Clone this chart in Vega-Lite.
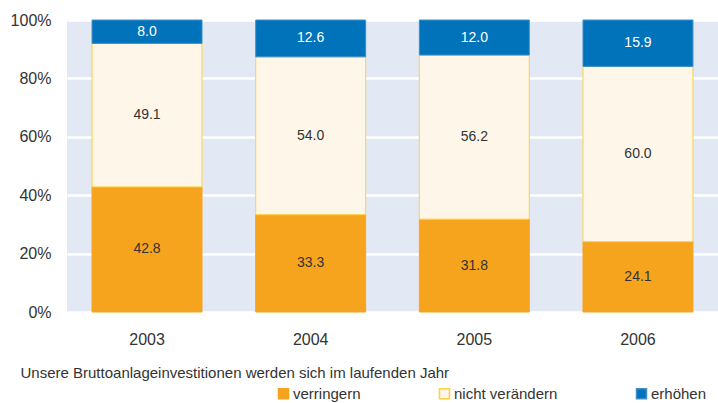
{
  "$schema": "https://vega.github.io/schema/vega-lite/v6.json",
  "width": 651,
  "height": 292,
  "autosize": "none",
  "padding": {"left": 67, "top": 20, "right": 0, "bottom": 91},
  "data": {
    "values": [
      {"Jahr": "2003", "Kategorie": "verringern", "Wert": 42.8},
      {"Jahr": "2003", "Kategorie": "nicht verändern", "Wert": 49.1},
      {"Jahr": "2003", "Kategorie": "erhöhen", "Wert": 8.0},
      {"Jahr": "2004", "Kategorie": "verringern", "Wert": 33.3},
      {"Jahr": "2004", "Kategorie": "nicht verändern", "Wert": 54.0},
      {"Jahr": "2004", "Kategorie": "erhöhen", "Wert": 12.6},
      {"Jahr": "2005", "Kategorie": "verringern", "Wert": 31.8},
      {"Jahr": "2005", "Kategorie": "nicht verändern", "Wert": 56.2},
      {"Jahr": "2005", "Kategorie": "erhöhen", "Wert": 12.0},
      {"Jahr": "2006", "Kategorie": "verringern", "Wert": 24.1},
      {"Jahr": "2006", "Kategorie": "nicht verändern", "Wert": 60.0},
      {"Jahr": "2006", "Kategorie": "erhöhen", "Wert": 15.9}
    ]
  },
  "encoding": {
    "x": {
      "field": "Jahr",
      "type": "ordinal",
      "scale": {"paddingInner": 0.328, "paddingOuter": 0.153},
      "axis": {
        "labelAngle": 0,
        "labelFontSize": 16,
        "labelBaseline": "middle",
        "labelPadding": 27,
        "ticks": false,
        "domain": false,
        "grid": false,
        "title": "Unsere Bruttoanlageinvestitionen werden sich im laufenden Jahr",
        "titleFontSize": 15,
        "titleFontWeight": "normal",
        "titleAnchor": "start",
        "titleAlign": "left",
        "titleBaseline": "middle",
        "titleX": -47,
        "titleY": 60
      }
    }
  },
  "layer": [
    {
      "mark": {"type": "bar", "strokeWidth": 1},
      "encoding": {
        "y": {
          "field": "Wert",
          "type": "quantitative",
          "stack": "normalize",
          "scale": {"domain": [0, 1]},
          "axis": {
            "values": [0, 0.2, 0.4, 0.6, 0.8, 1],
            "format": ".0%",
            "labelFontSize": 16,
            "labelPadding": 16,
            "ticks": false,
            "domain": false,
            "grid": true,
            "gridColor": "#ffffff",
            "gridWidth": 2.5,
            "title": null
          }
        },
        "color": {
          "field": "Kategorie",
          "type": "nominal",
          "sort": ["verringern", "nicht verändern", "erhöhen"],
          "scale": {
            "domain": ["verringern", "nicht verändern", "erhöhen"],
            "range": ["#F6A41E", "#FEF6E9", "#0073BB"]
          },
          "legend": {
            "title": null,
            "orient": "none",
            "direction": "horizontal",
            "columns": 3,
            "legendX": 209,
            "legendY": 366,
            "symbolType": "square",
            "symbolSize": 100,
            "symbolStrokeWidth": 1.5,
            "labelFontSize": 15,
            "labelOffset": 2,
            "labelLimit": 300,
            "columnPadding": 75
          }
        },
        "stroke": {
          "field": "Kategorie",
          "type": "nominal",
          "sort": ["verringern", "nicht verändern", "erhöhen"],
          "scale": {
            "domain": ["verringern", "nicht verändern", "erhöhen"],
            "range": ["#F6A41E", "#FFD042", "#3F8FC8"]
          }
        }
      }
    },
    {
      "mark": {"type": "text", "fontSize": 14},
      "encoding": {
        "y": {
          "field": "Wert",
          "type": "quantitative",
          "stack": "normalize",
          "bandPosition": 0.5
        },
        "text": {"field": "Wert", "type": "quantitative", "format": ".1f"},
        "fill": {
          "field": "Kategorie",
          "type": "nominal",
          "sort": ["verringern", "nicht verändern", "erhöhen"],
          "scale": {
            "domain": ["verringern", "nicht verändern", "erhöhen"],
            "range": ["#333333", "#333333", "#ffffff"]
          },
          "legend": null
        }
      }
    }
  ],
  "config": {
    "font": "Liberation Sans",
    "view": {"fill": "#E2E9F4", "stroke": null},
    "axis": {"labelColor": "#333333", "titleColor": "#333333"},
    "legend": {"labelColor": "#333333"}
  }
}
